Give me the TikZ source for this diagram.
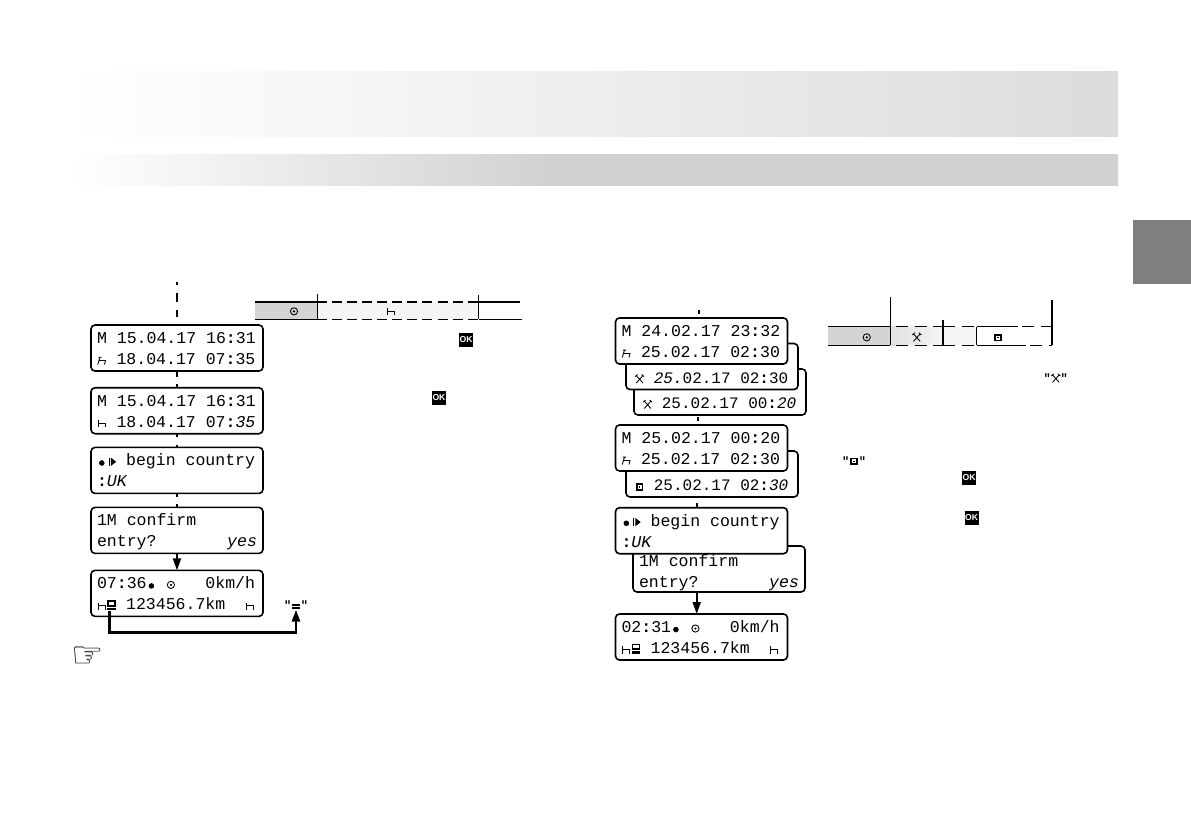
\documentclass[tikz,border=0pt]{standalone}
\usepackage{fontspec}
\setmainfont{Liberation Sans}
\setmonofont{Liberation Mono}
\usetikzlibrary{arrows.meta,positioning}

\definecolor{bandgray}{HTML}{D1D1D1}
\definecolor{topgray}{HTML}{DCDCDC}
\definecolor{tabgray}{HTML}{7F7F7F}
\definecolor{pausegray}{HTML}{D4D4D4}
\definecolor{restgray}{HTML}{F5F5F5}
\pgfdeclarehorizontalshading{bandfade}{100bp}{color(0bp)=(white); color(25bp)=(white); color(48bp)=(bandgray); color(100bp)=(bandgray)}

% LCD symbols, one character wide
\newcommand{\lcdsym}[2][]{\tikz[baseline=0pt,x=1pt,y=1pt,line width=.65pt,sharp corners,#1]{\path[use as bounding box] (0,0) rectangle (7.2,6.5); #2}}
\newcommand{\bedsym}{\lcdsym{\draw (.8,0) -- (.8,5.5) (.8,3) -- (6,3) -- (6,0);}}
\newcommand{\bedslant}{\lcdsym{\draw (.6,0) -- (2.2,5.5) (1.5,3) -- (6.4,3) -- (5.6,0) (1,5.5) -- (3.4,5.5);}}
\newcommand{\clocksym}{\lcdsym{\draw (3.6,3) circle (2.7pt); \fill (3.6,3) circle (.9pt);}}
\newcommand{\toolsym}{\lcdsym{\draw (1,5.8) -- (6.2,0) (6.4,5.8) -- (1.2,0) (.3,4.8) -- (2.2,6.4) (7.1,4.8) -- (5.2,6.4);}}
\newcommand{\boxsym}{\lcdsym{\fill (.9,0) rectangle (6.5,5.6); \fill[white] (2.2,1.3) rectangle (5.2,4.3); \fill (3.1,2.2) rectangle (4.3,3.4);}}
\newcommand{\chipsym}{\lcdsym{\fill (.6,-.4) rectangle (6.8,7.2); \fill[white] (1.7,3.9) rectangle (5.7,6.2); \fill[white] (.6,1.9) rectangle (6.8,2.5);}}
\newcommand{\dotsym}{\lcdsym{\fill (3.6,2.2) circle (2.1pt);}}
\newcommand{\beginsym}{\lcdsym{\fill (1.6,0) rectangle (2.5,6.2); \fill (3.2,0) -- (3.2,6.2) -- (7.2,3.1) -- cycle;}}
\newcommand{\cln}{{\bfseries :}}

\begin{document}
\begin{tikzpicture}[
    x=.75pt, y=-.75pt,
    font=\ttfamily\fontsize{12.4}{15.75}\selectfont,
    lcd/.style={draw, rounded corners=3pt, line width=1.2pt, fill=white, outer sep=0pt, inner ysep=0pt,
        inner xsep=4.5pt, text width=120pt, minimum height=34.5pt, align=left,
        execute at begin node={\spaceskip=.6em\xspaceskip=.6em\relax\leavevmode\rule{0pt}{11pt}},
        execute at end node={\rule[-2pt]{0pt}{2pt}}},
    lcdback/.style={lcd, inner xsep=6.5pt, text width=116pt, font=\ttfamily\fontsize{12}{15.75}\selectfont},
    stub/.style={line width=1.4pt, draw=black},
    flow/.style={line width=1.5pt, -{Triangle[length=9pt,width=6pt]}},
    okkey/.style={fill=black, text=white, inner sep=0pt, minimum size=10.5pt, font=\rmfamily\bfseries\fontsize{6.5}{7}\selectfont},
    quotemark/.style={inner sep=0pt, font=\ttfamily\bfseries\fontsize{9}{10}\selectfont},
    rule/.style={line width=.9pt},
    ruledash/.style={rule, dash pattern=on 9pt off 5pt},
    ruleshort/.style={rule, dash pattern=on 7.5pt off 3.8pt}
]
    \useasboundingbox (0,0) rectangle (1191,839);

    % Header bands and tab
    \fill[left color=white, right color=topgray] (65,71) rectangle (1118,136);
    \fill[shading=bandfade] (72,154) rectangle (1118,185);
    \fill[tabgray] (1133,220) rectangle (1191,284);

    % Left column
    \coordinate (ltop) at (177,281.7);
    \node[lcd, below=32.5pt of ltop] (ldate) {M 15.04.17 16\cln 31\\\bedslant{} 18.04.17 07\cln 35};
    \node[lcd, below=12.5pt of ldate] (lhour) {M 15.04.17 16\cln 31\\\bedsym{} 18.04.17 07\cln \textit{35}};
    \node[lcd, below=10.3pt of lhour] (lcountry) {\dotsym\beginsym{} begin country\\\cln\textit{UK}};
    \node[lcd, below=10.5pt of lcountry] (lconfirm) {1M confirm\\entry?\hfill\textit{yes}};
    \node[lcd, below=12.7pt of lconfirm] (lstatus) {07\cln 36\dotsym{}~\clocksym~~~0km/h\\\bedsym\chipsym{} 123456.7km~~\bedsym};

    \draw[stub, dash pattern=on 2.5pt off 5.8pt on 7pt off 6pt on 5.3pt off 9pt] (ltop) -- (ldate.north);
    \draw[stub, dash pattern=on 4.5pt off 5.2pt on 3pt off 9pt] (ldate.south) -- (lhour.north);
    \draw[stub, dash pattern=on 2.5pt off 6pt on 2pt off 9pt] (lhour.south) -- (lcountry.north);
    \draw[stub, dash pattern=on 3pt off 5.2pt on 2.5pt off 9pt] (lcountry.south) -- (lconfirm.north);
    \draw[flow] (lconfirm.south) -- (lstatus.north);

    % Left card eject connector
    \node[quotemark] (lquote) at (296,605) {"\lcdsym{\fill (.8,0) rectangle (6.6,1.6); \fill (.8,2.3) rectangle (6.6,3.9);}"};
    \coordinate (lchip) at (109.3,611);
    \coordinate (lcorner) at (296,632.7);
    \draw[line width=2pt, -{Triangle[length=9pt,width=6pt]}] (lchip) |- (lcorner) -- (lquote.south);
    \node[inner sep=0pt, font=\fontspec{DejaVu Sans Bold}\fontsize{27}{27}\selectfont] (lhand) at (88,657) {☞};

    % Left timeline
    \fill[pausegray] (255,302) rectangle (317,319.3);
    \fill[restgray] (317,302) rectangle (478,319.3);
    \draw[rule] (255,302) -- (317,302) (255,319.3) -- (317,319.3);
    \draw[ruleshort] (317,302) -- (478,302) (317,319.3) -- (478,319.3);
    \draw[rule] (478.5,302) -- (520,302) (478.5,319.3) -- (522,319.3);
    \draw[rule] (317.3,294.3) -- (317.3,319.3) (478.7,295) -- (478.7,319.3);
    \node[inner sep=0pt] (lclock) at (294,311) {\clocksym};
    \node[inner sep=0pt] (lrest) at (391,311) {\bedsym};
    \node[okkey] (lok) at (466,340) {OK};
    \node[okkey] (lokb) at (439,397.7) {OK};

    % Right column
    \node[lcdback, anchor=north west] (rmins) at (634,369) {~\\\toolsym{} 25.02.17 00\cln\textit{20}};
    \node[lcdback, anchor=north west] (rdays) at (626,343.5) {~\\\toolsym{} \textit{25.}02.17 02\cln 30};
    \node[lcd, anchor=north west] (rdate) at (615.5,318) {M 24.02.17 23\cln 32\\\bedslant{} 25.02.17 02\cln 30};
    \node[lcdback, anchor=north west] (rhour) at (626,451) {~\\\boxsym{} 25.02.17 02\cln\textit{30}};
    \node[lcd, anchor=north west] (rnext) at (615.5,425) {M 25.02.17 00\cln 20\\\bedslant{} 25.02.17 02\cln 30};
    \node[lcd, anchor=north west] (rconfirm) at (633,546) {\rule{0pt}{14pt}1M confirm\\entry?\hfill\textit{yes}};
    \node[lcd, anchor=north west] (rcountry) at (615.5,507.7) {\dotsym\beginsym{} begin country\\\cln\textit{UK}};
    \node[lcd, anchor=north west] (rstatus) at (615.5,614) {02\cln 31\dotsym{}~\clocksym~~~0km/h\\\bedsym\chipsym{} 123456.7km~~\bedsym};

    \coordinate (rtop) at (699,310);
    \coordinate (rmid) at (698,417);
    \coordinate (rlow) at (697,503);
    \coordinate (rarrow) at (696.7,592);
    \draw[stub, dash pattern=on 3pt off 9pt] (rtop) -- (rtop |- rdate.north);
    \draw[stub, dash pattern=on 3pt off 9pt] (rmid) -- (rmid |- rnext.north);
    \draw[stub, dash pattern=on 3pt off 9pt] (rlow) -- (rlow |- rcountry.north);
    \draw[flow] (rarrow) -- (rarrow |- rstatus.north);

    % Right timeline
    \fill[pausegray] (828,326.7) rectangle (890,345.3);
    \fill[left color=topgray!85, right color=restgray] (890,326.7) rectangle (943,345.3);
    \fill[restgray] (943,326.7) rectangle (977,345.3);
    \draw[rule] (828,326.7) -- (890,326.7) (828,345.3) -- (890,345.3);
    \draw[ruledash] (896,326.7) -- (943,326.7) (896,345.3) -- (943,345.3);
    \draw[ruledash] (943,326.7) -- (977,326.7) (943,345.3) -- (977,345.3);
    \draw[rule] (977,326.7) -- (1018,326.7) (977,345.3) -- (1026,345.3);
    \draw[ruledash] (1022,326.7) -- (1052,326.7) (1030,345.3) -- (1052,345.3);
    \draw[rule] (890.3,297) -- (890.3,345.3) (943,320) -- (943,345.3) (976.7,327) -- (976.7,345.3) (1052,300) -- (1052,345.3);
    \node[inner sep=0pt] (rclock) at (866.7,337) {\clocksym};
    \node[inner sep=0pt] (rtool) at (916.7,337) {\toolsym};
    \node[inner sep=0pt] (rbox) at (997.7,337) {\boxsym};
    \node[quotemark] (rtoolq) at (1055.7,378) {"\toolsym"};
    \node[quotemark] (rboxq) at (854,460.7) {"\boxsym"};
    \node[okkey] (rok) at (969,477.7) {OK};
    \node[okkey] (rokb) at (971.7,517.7) {OK};
\end{tikzpicture}
\end{document}
